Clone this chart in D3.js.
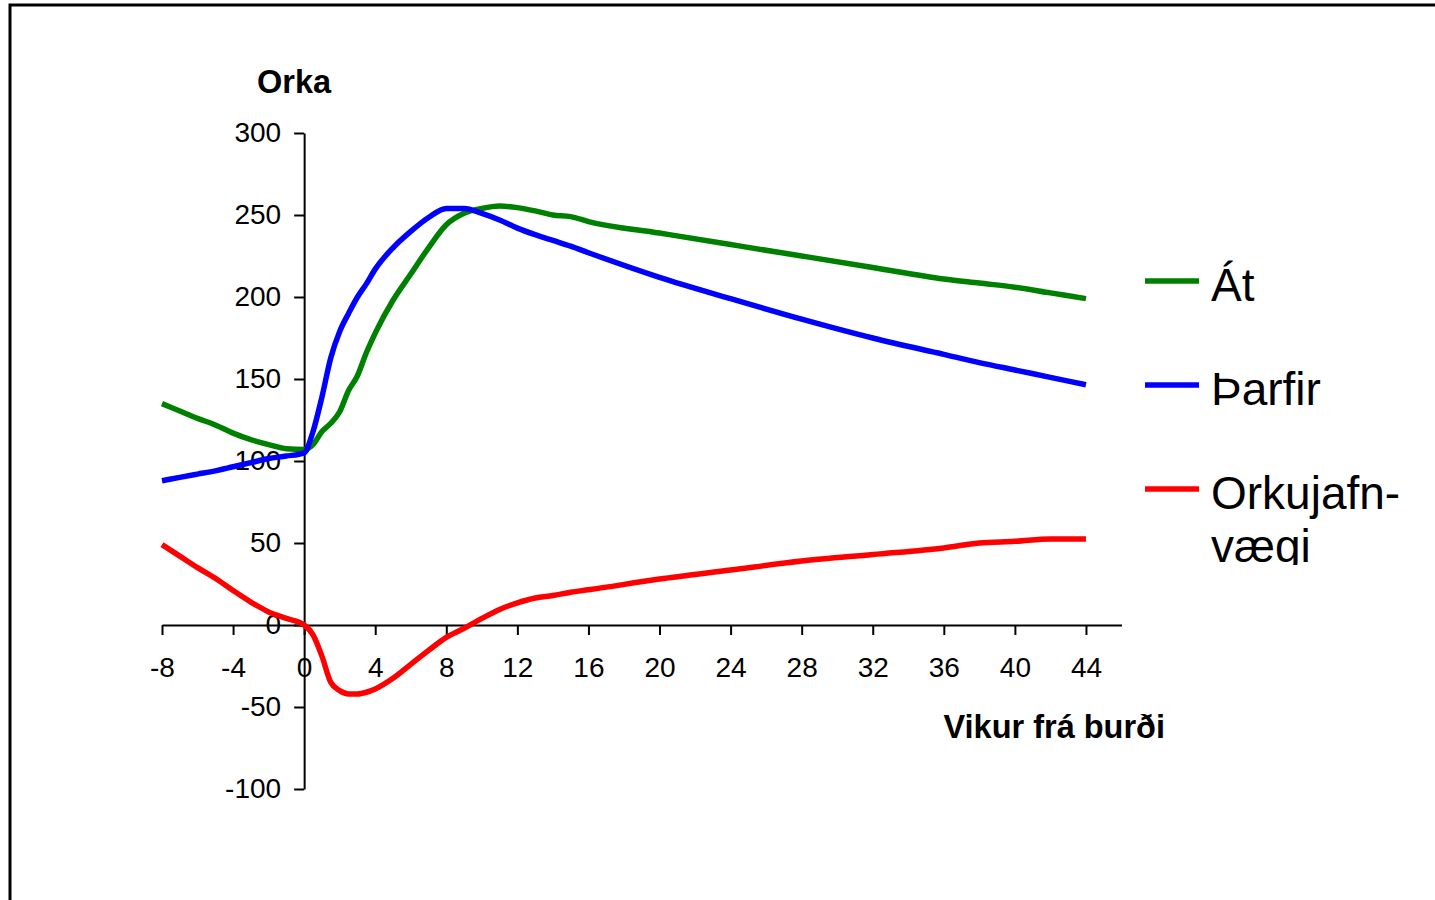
<!DOCTYPE html>
<html>
<head>
<meta charset="utf-8">
<script src="https://cdn.jsdelivr.net/npm/d3@7"></script>
<style>
  body { margin: 0; background: #fff; }
  text { font-family: "Liberation Sans", Arial, sans-serif; }
</style>
</head>
<body>
<div id="sketchpad"></div>
<script>
// weeks from calving
let weeks = [-8, -7, -6, -5, -4, -3, -2, -1, 0, 0.5, 1, 1.5, 2, 2.5, 3, 3.5, 4, 5, 6, 7, 8, 9, 10, 11, 12, 13, 14, 15, 16, 20, 24, 28, 32, 36, 38, 40, 42, 44]

let at = [135, 130.5, 126, 122, 117, 113, 110, 107.5, 107, 110, 118, 123, 130, 143, 152, 166, 178, 198, 214, 230, 244, 251, 254, 255.5, 254.5, 252.5, 250, 249, 246, 239, 232, 225, 218, 211, 208.5, 206, 202.5, 199]
let tharfir = [88, 90, 92, 94, 96.5, 99, 101.5, 103, 105, 118, 139, 163, 179, 190, 200, 208, 217, 230, 240, 248.5, 254, 254, 251, 247, 242, 238, 234.5, 231, 227, 212, 199, 186.5, 175, 165, 160, 155.5, 151, 146.5]
let orkujafnvaegi = [49, 42, 35, 28.5, 21, 14, 8, 4, 0, -6, -19, -35, -40, -42, -42, -41, -39, -32.5, -24, -15.5, -7.5, -2, 4, 9.5, 13.5, 16.5, 18, 20, 21.5, 28, 33.5, 39, 43, 47, 50, 51, 52.5, 52.5]

let xTicks = [-8, -4, 0, 4, 8, 12, 16, 20, 24, 28, 32, 36, 40, 44]
let yTicks = [-100, -50, 0, 50, 100, 150, 200, 250, 300]

let seriesNames = ["Át", "Þarfir", "Orkujafn-|vægi"]
let seriesColors = ["#008000", "#0000ff", "#ff0000"]
let seriesValues = [at, tharfir, orkujafnvaegi]

let svg = d3.select("#sketchpad")
  .append("svg")
  .attr("width", 1435)
  .attr("height", 900)

// outer frame (runs off the right and bottom edges)
svg.append("rect")
  .attr("x", 10)
  .attr("y", 5)
  .attr("width", 2000)
  .attr("height", 2000)
  .attr("fill", "none")
  .attr("stroke", "#000")
  .attr("stroke-width", 3)

let x = d3.scaleLinear().domain([-8, 46]).range([162, 1121.5])
let y = d3.scaleLinear().domain([-100, 300]).range([789, 133])

// plain hyphen for negatives, like the original
let fmt = d => String(d)

let xAxis = svg.append("g")
  .attr("transform", `translate(0,${y(0)})`)
  .call(d3.axisBottom(x).tickValues(xTicks).tickFormat(fmt).tickSize(10).tickPadding(22).tickSizeOuter(0))
xAxis.select(".domain").attr("stroke-width", 2)
xAxis.selectAll(".tick line").attr("stroke-width", 2)
xAxis.selectAll("text").attr("font-size", 28).attr("font-family", "Liberation Sans, Arial, sans-serif")

let yAxis = svg.append("g")
  .attr("transform", `translate(${x(0)},0)`)
  .call(d3.axisLeft(y).tickValues(yTicks).tickFormat(fmt).tickSize(10).tickPadding(13).tickSizeOuter(0))
yAxis.select(".domain").attr("stroke-width", 2)
yAxis.selectAll(".tick line").attr("stroke-width", 2)
yAxis.selectAll("text").attr("font-size", 28).attr("font-family", "Liberation Sans, Arial, sans-serif")

svg.append("text")
  .attr("x", 257)
  .attr("y", 93)
  .attr("font-size", 32.5)
  .attr("font-weight", "bold")
  .text("Orka")

svg.append("text")
  .attr("x", 1165)
  .attr("y", 738)
  .attr("text-anchor", "end")
  .attr("font-size", 32.5)
  .attr("font-weight", "bold")
  .text("Vikur frá burði")

let line = d3.line()
  .x((d, i) => x(weeks[i]))
  .y(d => y(d))
  .curve(d3.curveMonotoneX)

seriesValues.forEach((vals, k) => {
  svg.append("path")
    .datum(vals)
    .attr("d", line)
    .attr("fill", "none")
    .attr("stroke", seriesColors[k])
    .attr("stroke-width", 5.5)
    .attr("stroke-linejoin", "round")
})

// legend, clipped at the bottom like the original
svg.append("clipPath")
  .attr("id", "legclip")
  .append("rect")
  .attr("x", 1100)
  .attr("y", 200)
  .attr("width", 400)
  .attr("height", 365)

let legend = svg.append("g").attr("clip-path", "url(#legclip)")
seriesNames.forEach((name, k) => {
  let cy = 281 + k * 104
  legend.append("line")
    .attr("x1", 1145)
    .attr("x2", 1199)
    .attr("y1", cy)
    .attr("y2", cy)
    .attr("stroke", seriesColors[k])
    .attr("stroke-width", 5.5)
  let t = legend.append("text")
    .attr("x", 1211)
    .attr("y", cy + 20)
    .attr("font-size", 46)
  name.split("|").forEach((part, j) => {
    t.append("tspan")
      .attr("x", 1211)
      .attr("dy", j === 0 ? 0 : 53)
      .text(part)
  })
})
</script>
</body>
</html>
